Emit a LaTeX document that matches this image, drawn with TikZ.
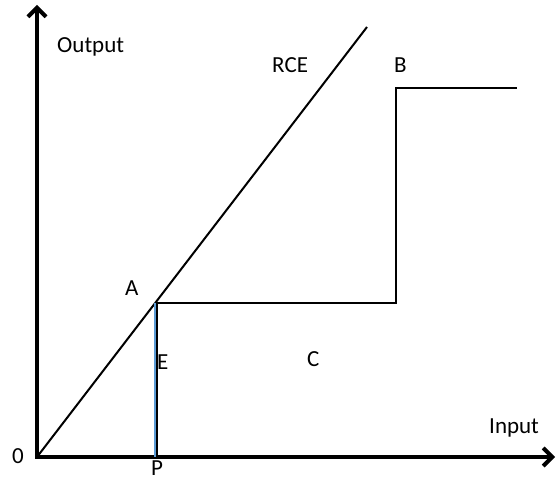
\documentclass[tikz,border=0pt]{standalone}
\usepackage{fontspec}
\setmainfont{Carlito}
\usepackage{xcolor}
\usetikzlibrary{arrows.meta}
\definecolor{stepline}{RGB}{91, 155, 213}

\tikzset{
  axis/.style={line width=4pt, -{Straight Barb[length=9pt, width=18pt]}},
  curve/.style={line width=2.2pt, line join=miter},
  lbl/.style={anchor=base west, inner sep=0pt, font=\fontsize{23}{27}\selectfont}
}

\begin{document}
\begin{tikzpicture}[x=1pt, y=-1pt]
  \useasboundingbox (0,0) rectangle (559,481);

  % key points
  \coordinate (orig) at (37,457);
  \coordinate (ytop) at (37,5);
  \coordinate (xend) at (555,457);
  \coordinate (rce)  at (367,27);
  \coordinate (pa)   at (156,303);
  \coordinate (pc)   at (396,303);
  \coordinate (pb)   at (396,88);
  \coordinate (pbr)  at (517,88);
  \coordinate (pp)   at (156,457);

  % axes
  \draw[axis] (orig) -- (ytop);
  \draw[axis] ([xshift=-2pt]orig) -- (xend);

  % constant returns line
  \draw[line width=2pt] (orig) -- (rce);

  % step curve
  \draw[curve] (pa) -- (pc) -- (pb) -- (pbr);
  \draw[stepline, line width=3pt] ([xshift=-0.5pt]pa) -- ([xshift=-0.5pt]pp);
  \draw[line width=2pt] ([xshift=0.8pt]pa) -- ([xshift=0.8pt]pp);

  % labels
  \node[lbl] (out) at (57,53)   {Output};
  \node[lbl] (inp) at (489,433) {Input};
  \node[lbl] (lr)  at (272,73)  {RCE};
  \node[lbl] (lb)  at (394,73)  {B};
  \node[lbl] (la)  at (125,295) {A};
  \node[lbl] (le)  at (157,369) {E};
  \node[lbl] (lc)  at (307,366) {C};
  \node[lbl] (lp)  at (151,475) {P};
  \node[lbl] (lo)  at (12,463)  {0};
\end{tikzpicture}
\end{document}
